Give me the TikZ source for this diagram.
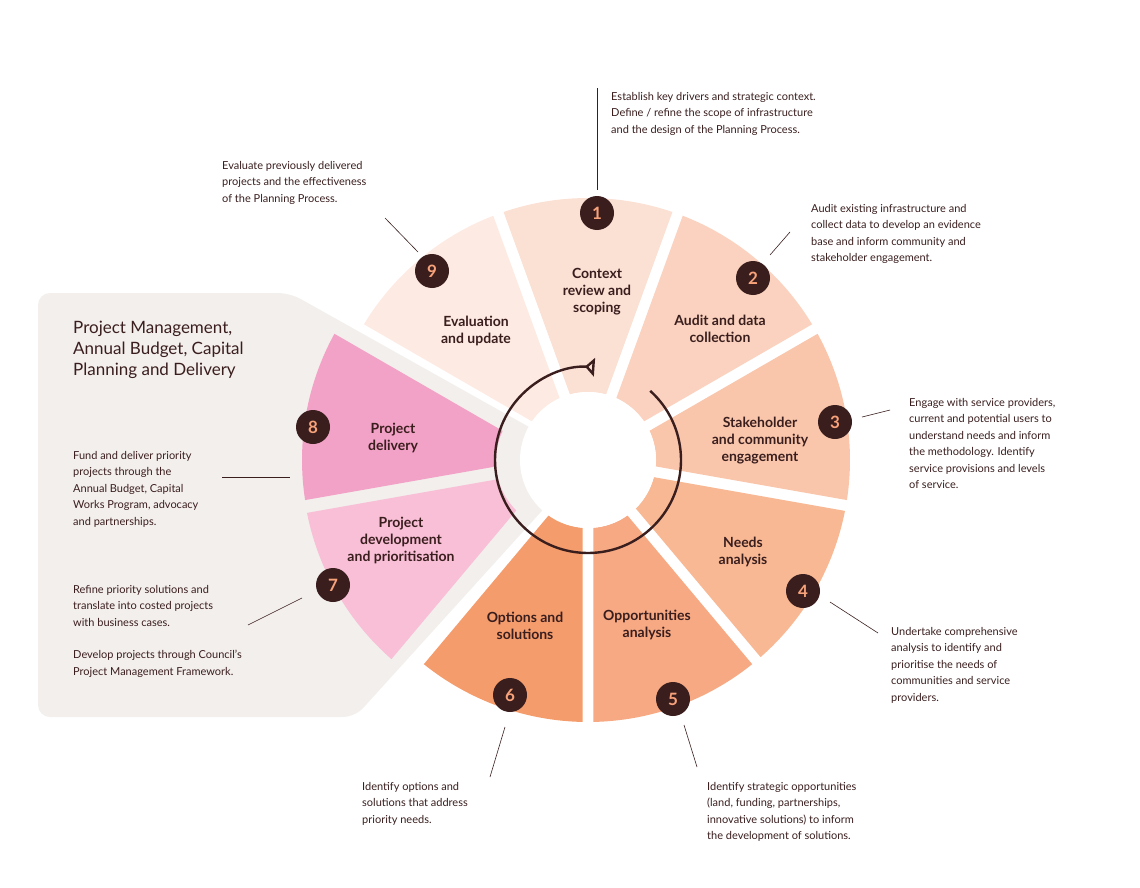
\documentclass[tikz,border=0pt]{standalone}
\usepackage{fontspec}
\setmainfont{Lato}
\usetikzlibrary{calc,positioning,arrows}
\definecolor{segA}{HTML}{FBE0D4}
\definecolor{segB}{HTML}{FAD2BF}
\definecolor{segC}{HTML}{F9C6AC}
\definecolor{segD}{HTML}{F8B894}
\definecolor{segE}{HTML}{F6A983}
\definecolor{segF}{HTML}{F49C6C}
\definecolor{segG}{HTML}{F8BFD7}
\definecolor{segH}{HTML}{F2A2C6}
\definecolor{segI}{HTML}{FDEBE3}
\definecolor{panel}{HTML}{F3EFEC}
\definecolor{brown}{HTML}{3A1E1E}
\definecolor{numcol}{HTML}{F7A27A}
\tikzset{
  seglabel/.style={align=center, font=\bfseries\fontsize{14}{17}\selectfont, text=brown},
  note/.style={align=left, anchor=north west, inner sep=0pt,
    font=\fontsize{11}{16.5}\selectfont, text=brown},
  num/.style={circle, fill=brown, minimum size=34pt, inner sep=0pt,
    text=numcol, font=\bfseries\fontsize{17}{17}\selectfont},
  leader/.style={draw=brown, line width=0.6pt},
}
% annular sector: start angle, end angle, colour, shift
\newcommand{\ringseg}[4]{%
  \fill[#3, shift={#4}] (#1+1.2:262) arc (#1+1.2:#2-1.2:262)
    -- (#2-4.6:68) arc (#2-4.6:#1+4.6:68) -- cycle;}
\begin{document}
\begin{tikzpicture}[x=1pt,y=-1pt]
  \useasboundingbox (0,0) rectangle (1140,888);
  \fill[panel, rounded corners=12pt] (38,293) -- (290,293) -- (588,460)
    -- (355,717) -- (38,717) -- cycle;
  \begin{scope}[shift={(588,460)}]
    \ringseg{-110}{-70}{segA}{(0,0)}
    \ringseg{-70}{-30}{segB}{(0,0)}
    \ringseg{-30}{10}{segC}{(0,0)}
    \ringseg{10}{50}{segD}{(0,0)}
    \ringseg{50}{90}{segE}{(0,0)}
    \ringseg{90}{130}{segF}{(0,0)}
    \ringseg{130}{170}{segG}{(-24,2)}
    \ringseg{170}{210}{segH}{(-24,0)}
    \ringseg{210}{250}{segI}{(0,0)}
    \fill[white] (0,0) circle (68);
    \draw[brown, line width=2.4pt, -open triangle 90 reversed] (-48:93) arc (-48:274:93);
  \end{scope}

  % segment labels
  \node[seglabel] (context) at (597,292) {Context\\review and\\scoping};
  \node[seglabel] (audit) at (720,329) {Audit and data\\collection};
  \node[seglabel] (stake) at (760,441) {Stakeholder\\and community\\engagement};
  \node[seglabel] (needs) at (743,552) {Needs\\analysis};
  \node[seglabel] (opport) at (647,625) {Opportunities\\analysis};
  \node[seglabel] (options) at (525,626) {Options and\\solutions};
  \node[seglabel] (develop) at (401,540) {Project\\development\\and prioritisation};
  \node[seglabel] (delivery) at (393,438) {Project\\delivery};
  \node[seglabel] (evalu) at (476,331) {Evaluation\\and update};

  % numbers
  \node[num] (n1) at (597,213) {1};
  \node[num] (n2) at (753,278) {2};
  \node[num] (n3) at (835,422) {3};
  \node[num] (n4) at (803,591) {4};
  \node[num] (n5) at (673,699) {5};
  \node[num] (n6) at (510,695) {6};
  \node[num] (n7) at (333,585) {7};
  \node[num] (n8) at (313,427) {8};
  \node[num] (n9) at (432,271) {9};

  % notes
  \node[note] (t1) at (611,92) {Establish key drivers and strategic context.\\Define / refine the scope of infrastructure\\and the design of the Planning Process.};
  \node[note] (t2) at (811,204) {Audit existing infrastructure and\\collect data to develop an evidence\\base and inform community and\\stakeholder engagement.};
  \node[note] (t3) at (909,398) {Engage with service providers,\\current and potential users to\\understand needs and inform\\the methodology. Identify\\service provisions and levels\\of service.};
  \node[note] (t4) at (891,627) {Undertake comprehensive\\analysis to identify and\\prioritise the needs of\\communities and service\\providers.};
  \node[note] (t5) at (707,782) {Identify strategic opportunities\\(land, funding, partnerships,\\innovative solutions) to inform\\the development of solutions.};
  \node[note] (t6) at (362,782) {Identify options and\\solutions that address\\priority needs.};
  \node[note] (t7) at (73,585) {Refine priority solutions and\\translate into costed projects\\with business cases.\\[16pt]Develop projects through Council's\\Project Management Framework.};
  \node[note] (t8) at (73,451) {Fund and deliver priority\\projects through the\\Annual Budget, Capital\\Works Program, advocacy\\and partnerships.};
  \node[note] (t9) at (222,161) {Evaluate previously delivered\\projects and the effectiveness\\of the Planning Process.};
  \node[note, font=\fontsize{17}{21}\selectfont] (title) at (73,321) {Project Management,\\Annual Budget, Capital\\Planning and Delivery};

  % leaders
  \coordinate (l1) at (597,88);
  \draw[leader] (n1.north) ++(0,-6) -- (l1);
  \draw[leader] (770,255) -- (790,232);
  \draw[leader] (862,417) -- (890,410);
  \draw[leader] (830,602) -- (878,633);
  \draw[leader] (684,725) -- (697,767);
  \draw[leader] (505,727) -- (490,777);
  \draw[leader] (302,598) -- (248,625);
  \draw[leader] (222,477) -- (290,477);
  \draw[leader] (385,218) -- (418,252);
\end{tikzpicture}
\end{document}
